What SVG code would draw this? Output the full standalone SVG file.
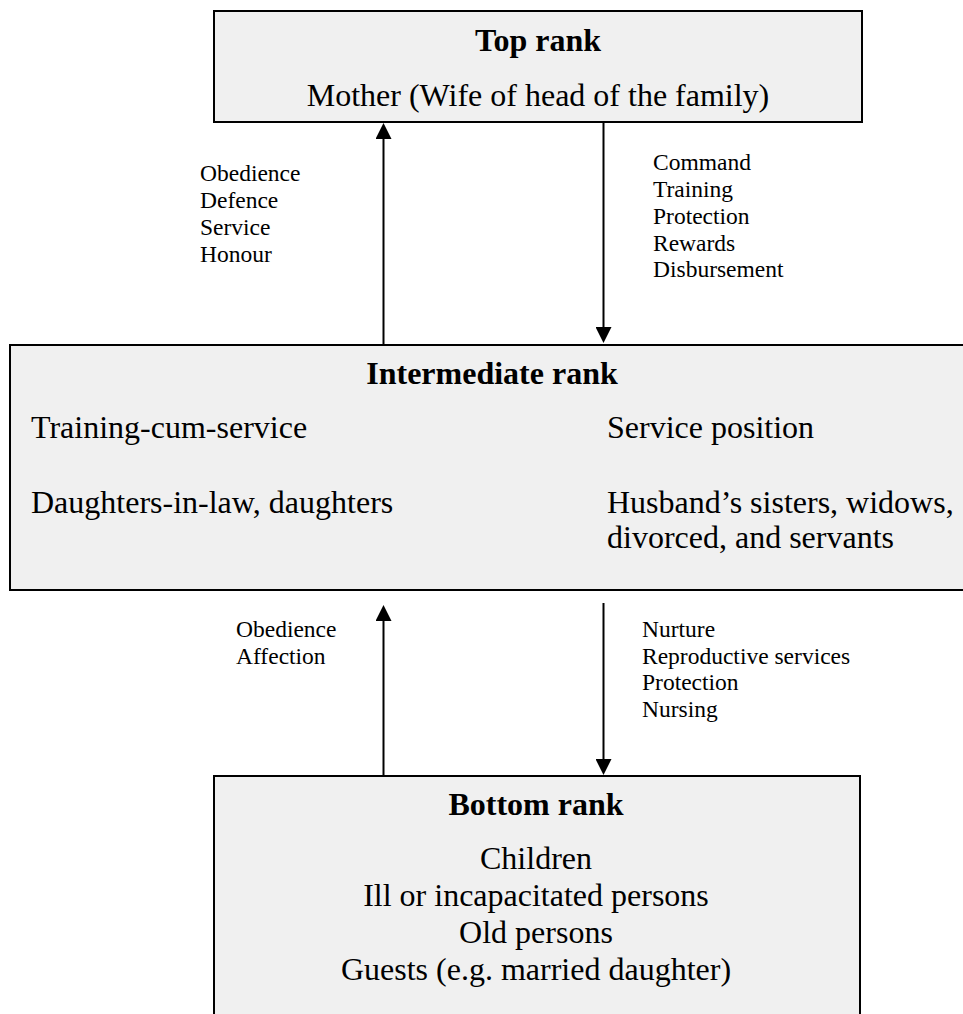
<svg xmlns="http://www.w3.org/2000/svg" width="963" height="1014" viewBox="0 0 963 1014">
  <style>
    .box { fill: #f0f0f0; stroke: #000; stroke-width: 2; }
    .t { font-family: "Liberation Serif", "Times New Roman", serif; fill: #000; }
    .title { font-size: 32px; font-weight: bold; text-anchor: middle; }
    .body { font-size: 32px; }
    .mid { text-anchor: middle; }
    .lbl { font-size: 23.5px; }
    .conn { stroke: #000; stroke-width: 2; fill: none; marker-end: url(#arrow); }
  </style>
  <defs>
    <marker id="arrow" viewBox="0 0 16 16" markerWidth="16" markerHeight="16" refX="8" refY="8" orient="auto" markerUnits="userSpaceOnUse">
      <path d="M0,0 L16,8 L0,16 Z" fill="#000"/>
    </marker>
  </defs>
  <rect width="963" height="1014" fill="#fff"/>

  <g id="top-rank">
    <rect class="box" x="214" y="11" width="648" height="111"/>
    <text class="t title" x="538" y="51">Top rank</text>
    <text class="t body mid" x="538" y="106">Mother (Wife of head of the family)</text>
  </g>

  <g id="intermediate-rank">
    <rect class="box" x="10" y="345" width="985" height="245"/>
    <text class="t title" x="492" y="384">Intermediate rank</text>
    <text class="t body" x="31" y="438">Training-cum-service</text>
    <text class="t body" x="31" y="513">Daughters-in-law, daughters</text>
    <text class="t body" x="607" y="438">Service position</text>
    <text class="t body" x="607" y="513">Husband’s sisters, widows,</text>
    <text class="t body" x="607" y="548">divorced, and servants</text>
  </g>

  <g id="bottom-rank">
    <rect class="box" x="214" y="776" width="646" height="260"/>
    <text class="t title" x="536" y="815">Bottom rank</text>
    <text class="t body mid" x="536" y="869">Children</text>
    <text class="t body mid" x="536" y="906">Ill or incapacitated persons</text>
    <text class="t body mid" x="536" y="943">Old persons</text>
    <text class="t body mid" x="536" y="980">Guests (e.g. married daughter)</text>
  </g>

  <g id="connectors">
    <line class="conn" x1="383.5" y1="344" x2="383.5" y2="131"/>
    <line class="conn" x1="603.5" y1="122" x2="603.5" y2="335"/>
    <line class="conn" x1="383.5" y1="776" x2="383.5" y2="613"/>
    <line class="conn" x1="603.5" y1="603" x2="603.5" y2="767"/>
  </g>

  <g id="labels">
    <text class="t lbl" x="200" y="181">Obedience</text>
    <text class="t lbl" x="200" y="208">Defence</text>
    <text class="t lbl" x="200" y="235">Service</text>
    <text class="t lbl" x="200" y="262">Honour</text>
    <text class="t lbl" x="653" y="170">Command</text>
    <text class="t lbl" x="653" y="197">Training</text>
    <text class="t lbl" x="653" y="224">Protection</text>
    <text class="t lbl" x="653" y="251">Rewards</text>
    <text class="t lbl" x="653" y="277">Disbursement</text>
    <text class="t lbl" x="236" y="637">Obedience</text>
    <text class="t lbl" x="236" y="664">Affection</text>
    <text class="t lbl" x="642" y="637">Nurture</text>
    <text class="t lbl" x="642" y="664">Reproductive services</text>
    <text class="t lbl" x="642" y="690">Protection</text>
    <text class="t lbl" x="642" y="717">Nursing</text>
  </g>
</svg>
